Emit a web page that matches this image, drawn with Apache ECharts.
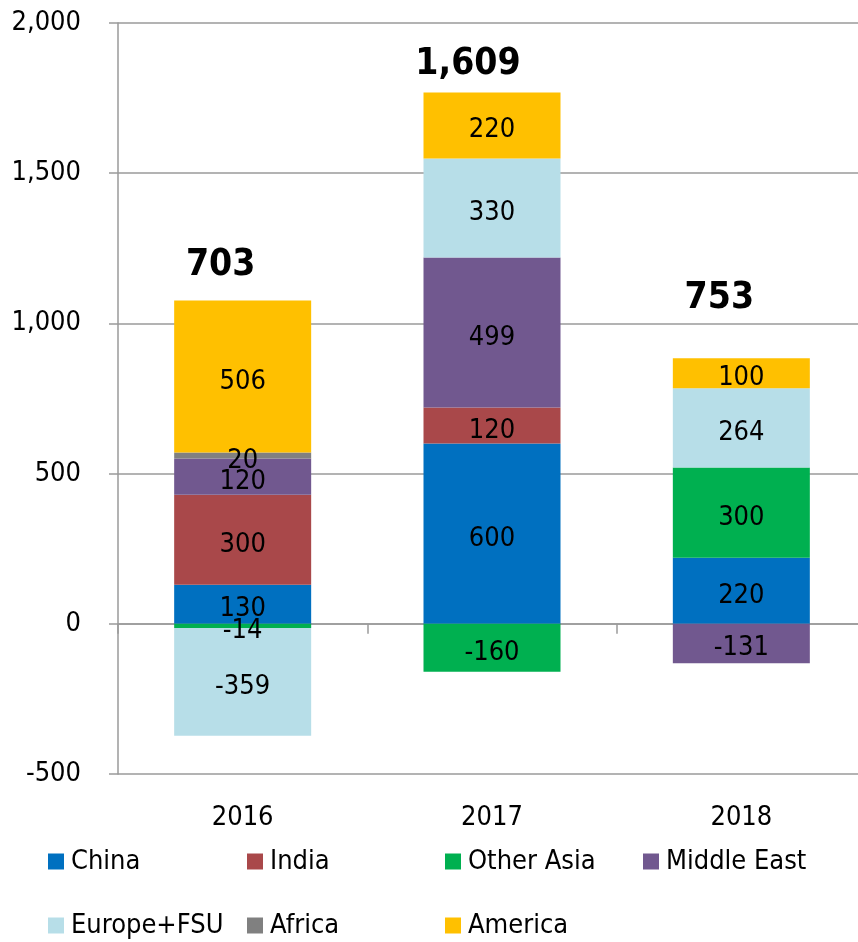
<!DOCTYPE html>
<html>
<head>
<meta charset="utf-8">
<script src="https://cdn.jsdelivr.net/npm/echarts@6/dist/echarts.min.js"></script>
<style>
  html, body { margin: 0; padding: 0; background: #fff; }
  #chart { width: 858px; height: 942px; }
</style>
</head>
<body>
<div id="chart"></div>
<script>
// data
var categories = ['2016', '2017', '2018'];
var china = [130, 600, 220];
var india = [300, 120, null];
var otherAsia = [-14, -160, 300];
var middleEast = [120, 499, -131];
var europeFsu = [-359, 330, 264];
var africa = [20, null, null];
var america = [506, 220, 100];
var totals = [703, 1609, 753];
var yTicks = [-500, 0, 500, 1000, 1500, 2000];

var FONT = '"DejaVu Sans Condensed", "DejaVu Sans", sans-serif';

var seriesDefs = [
  { name: 'China', data: china, color: '#0070C0' },
  { name: 'India', data: india, color: '#A9484A' },
  { name: 'Other Asia', data: otherAsia, color: '#00B050' },
  { name: 'Middle East', data: middleEast, color: '#71588F' },
  { name: 'Europe+FSU', data: europeFsu, color: '#B7DEE8' },
  { name: 'Africa', data: africa, color: '#808080' },
  { name: 'America', data: america, color: '#FFC000' }
];

var series = seriesDefs.map(function (s) {
  return {
    name: s.name,
    type: 'bar',
    stack: 'total',
    barWidth: 137,
    data: s.data,
    itemStyle: { color: s.color },
    label: {
      show: true,
      position: 'inside',
      offset: [0, 5],
      color: '#000',
      fontFamily: FONT,
      fontSize: 27,
      formatter: function (p) { return p.value; }
    }
  };
});

// zero-height bar on top of each stack carries the total label
var totalOffsets = [[-22, -17], [-24, -10], [-22, -41]];
series.push({
  name: 'Total',
  type: 'bar',
  stack: 'total',
  barWidth: 137,
  data: totals.map(function (t, i) {
    return { value: 0, label: { offset: totalOffsets[i] } };
  }),
  itemStyle: { color: 'transparent' },
  label: {
    show: true,
    position: 'top',
    distance: 0,
    color: '#000',
    fontFamily: FONT,
    fontWeight: 'bold',
    fontSize: 37,
    formatter: function (p) { return totals[p.dataIndex].toLocaleString('en-US'); }
  }
});

// legend placed like the original: two rows, four columns
var legendPos = [
  ['China', 48, 848], ['India', 247, 848], ['Other Asia', 445, 848], ['Middle East', 643, 848],
  ['Europe+FSU', 48, 912], ['Africa', 247, 912], ['America', 445, 912]
];
var legends = legendPos.map(function (l) {
  return {
    data: [l[0]],
    left: l[1],
    top: l[2],
    padding: 0,
    icon: 'rect',
    itemWidth: 16,
    itemHeight: 16,
    itemGap: 0,
    selectedMode: false,
    textStyle: { color: '#000', fontFamily: FONT, fontSize: 27, padding: [0, 0, 0, 2] }
  };
});

var chart = echarts.init(document.getElementById('chart'));
chart.setOption({
  animation: false,
  backgroundColor: '#fff',
  grid: { left: 118, right: -8, top: 23, bottom: 168, containLabel: false, outerBoundsMode: 'none' },
  legend: legends,
  xAxis: {
    type: 'category',
    data: categories,
    axisLine: { onZero: true, lineStyle: { color: '#9A9A9A', width: 1.5 } },
    axisTick: { show: true, length: 10, lineStyle: { color: '#9A9A9A', width: 1.5 } },
    axisLabel: { color: '#000', fontFamily: FONT, fontSize: 27, margin: 30 },
    splitLine: { show: false }
  },
  yAxis: {
    type: 'value',
    min: yTicks[0],
    max: yTicks[yTicks.length - 1],
    interval: 500,
    axisLine: { show: true, lineStyle: { color: '#9A9A9A', width: 1.5 } },
    axisTick: { show: true, length: 9, lineStyle: { color: '#9A9A9A', width: 1.5 } },
    axisLabel: {
      color: '#000', fontFamily: FONT, fontSize: 27, margin: 37,
      formatter: function (v) { return v.toLocaleString('en-US'); }
    },
    splitLine: { show: true, lineStyle: { color: '#9A9A9A', width: 1.5 } }
  },
  series: series
});
</script>
</body>
</html>
